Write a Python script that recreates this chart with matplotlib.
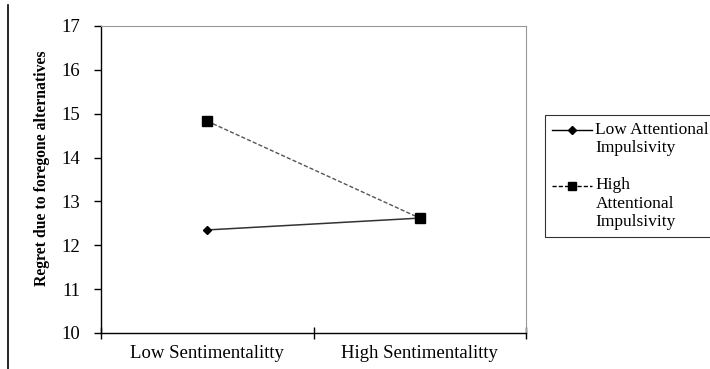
import numpy as np
import matplotlib.pyplot as plt
from matplotlib.lines import Line2D
from matplotlib.legend_handler import HandlerLine2D

# interaction plot: regret by sentimentality and attentional impulsivity
categories = ['Low Sentimentalitty', 'High Sentimentalitty']
low_impulsivity = [12.35, 12.62]
high_impulsivity = [14.83, 12.62]
series_labels = ['Low Attentional\nImpulsivity', 'High\nAttentional\nImpulsivity']
y_ticks = [10, 11, 12, 13, 14, 15, 16, 17]

plt.rcParams['font.family'] = ['Liberation Serif', 'DejaVu Serif']


class TopLineHandler(HandlerLine2D):
    # puts the legend line next to the first text row instead of the middle
    def __init__(self, shift, **kw):
        super().__init__(**kw)
        self.shift = shift

    def create_artists(self, legend, orig_handle, xdescent, ydescent, width, height, fontsize, trans):
        artists = super().create_artists(legend, orig_handle, xdescent, ydescent,
                                         width, height, fontsize, trans)
        for a in artists:
            a.set_ydata(np.asarray(a.get_ydata()) + self.shift)
        return artists


fig = plt.figure(figsize=(7.1, 3.69), dpi=100, facecolor='white')
ax = fig.add_axes([101 / 710, 1 - 333 / 369, 425 / 710, 307 / 369])

x = range(len(categories))
ax.plot(x, low_impulsivity, color='#333333', linewidth=1.1, marker='D', markersize=4.5,
        markerfacecolor='black', markeredgecolor='black')
ax.plot(x, high_impulsivity, color='#555555', linewidth=1.0, linestyle=(0, (3, 1.5)),
        marker='s', markersize=6.5, markerfacecolor='black', markeredgecolor='black')

ax.set_xlim(-0.5, len(categories) - 0.5)
ax.set_ylim(10, 17)
ax.set_yticks(y_ticks)
ax.set_yticklabels([str(v) for v in y_ticks], fontsize=13.5)
ax.set_xticks([-0.5, 0.5, 1.5])
ax.set_xticklabels([])
ax.set_xticks(list(x), minor=True)
ax.set_xticklabels(categories, minor=True, fontsize=13.5)
ax.tick_params(axis='x', which='major', direction='inout', length=8, width=1)
ax.tick_params(axis='x', which='minor', length=0, pad=9)
ax.tick_params(axis='y', direction='out', length=5, width=1, pad=10)

ax.spines['top'].set_color('#999999')
ax.spines['right'].set_color('#999999')
ax.spines['top'].set_linewidth(0.8)
ax.spines['right'].set_linewidth(0.8)
ax.spines['left'].set_linewidth(1.0)
ax.spines['bottom'].set_linewidth(1.0)

ax.set_ylabel('Regret due to foregone alternatives', fontsize=11.3, fontweight='bold')
ax.yaxis.set_label_coords(-0.12, 0.537)

h_low = Line2D([], [], color='black', linewidth=1.0, marker='D', markersize=4.5)
h_high = Line2D([], [], color='black', linewidth=1.0, linestyle=(0, (3, 1.5)), marker='s', markersize=6)
leg = fig.legend([h_low, h_high], series_labels, loc='upper left',
                 bbox_to_anchor=(545 / 710, 1 - 115 / 369),
                 handler_map={h_low: TopLineHandler(6.5), h_high: TopLineHandler(12.8)},
                 fontsize=12.5, frameon=True, fancybox=False, edgecolor='black', handlelength=2.3,
                 handletextpad=0.2, borderpad=0.4, labelspacing=1.2, borderaxespad=0)
leg.get_frame().set_linewidth(0.8)

# page border line on the left
fig.add_artist(Line2D([8 / 710, 8 / 710], [0, 1 - 5 / 369], color='black', linewidth=1.2))

fig.savefig('out.png', dpi=100)
